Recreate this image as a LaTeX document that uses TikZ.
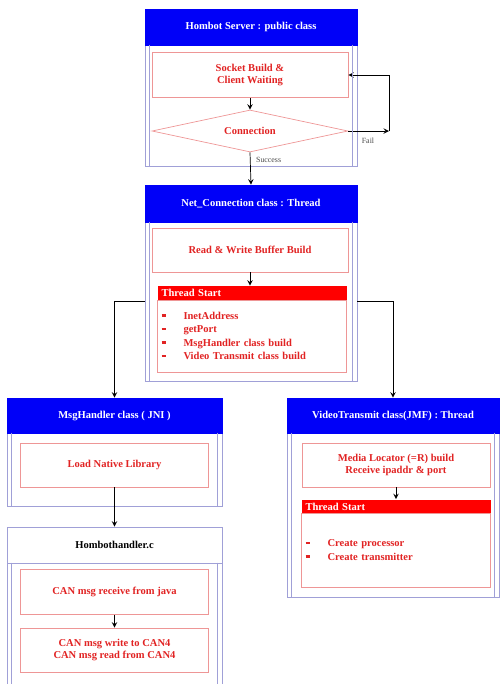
\documentclass[tikz,border=0pt]{standalone}
\usepackage{fontspec}
\setmainfont{Liberation Serif}
\usetikzlibrary{shapes.geometric,arrows,positioning}
\definecolor{hdrblue}{RGB}{0,0,248}
\definecolor{frmline}{RGB}{160,160,215}
\definecolor{boxline}{RGB}{238,150,150}
\definecolor{txtred}{RGB}{225,35,35}
\def\px{0.02cm}
\newcommand\itm{\makebox[0.44cm][l]{\rule[1.4pt]{2.4pt}{1.4pt}}}
\tikzset{
  hdr/.style={fill=hdrblue,draw=hdrblue,text=white,minimum width=#1*\px,minimum height=36*\px,inner sep=1pt},
  chdr/.style={fill=white,draw=frmline,text=black,minimum width=#1*\px,minimum height=36*\px,inner sep=1pt},
  frm/.style={draw=frmline,minimum width=#1*\px,inner sep=0pt},
  frmln/.style={draw=frmline},
  stepbox/.style={draw=boxline,text=txtred,align=center,minimum width=#1*\px,minimum height=44*\px,inner sep=1pt},
  tsbar/.style={fill=red,text=white,minimum width=189*\px,text width=3.62cm,align=left,minimum height=14*\px,inner sep=1pt},
  lst/.style={draw=boxline,text=txtred,minimum width=189*\px,text width=3.62cm,align=left,inner sep=1pt,font=\fontsize{6}{7.7}\selectfont\bfseries},
  lbl/.style={text=black!70,font=\fontsize{4.5}{5}\selectfont,inner sep=1pt}
}
\begin{document}
\begin{tikzpicture}[x=0.02cm,y=-0.02cm,font=\fontsize{6}{7}\selectfont\bfseries,>=stealth]
\useasboundingbox (0,0) rectangle (500,684);

% server class
\node[frm=212,minimum height=121*\px] (srvfrm) at (251,105.5) {};
\node[hdr=212] (srvhdr) at (251,27) {Hombot Server : public class};
\node[stepbox=196,minimum height=45*\px] (sock) at (250,75) {Socket Build \&\\Client Waiting};
\node[diamond,draw=boxline,text=txtred,minimum width=196*\px,minimum height=42*\px,aspect=4.6,inner sep=0pt] (conn) at (250,131) {Connection};
\coordinate (failpt) at (389,131);
\draw[->] (sock) -- (conn);
\draw[->] (conn.east) -- (failpt);
\draw[->] (failpt) |- (sock.east);
\node[lbl] (fail) at (368,141) {Fail};

% net connection thread
\node[frm=212,minimum height=159*\px] (netfrm) at (251,301.5) {};
\node[hdr=212,minimum height=37*\px] (nethdr) at (251,203.5) {Net\_Connection class : Thread};
\draw[->] (conn.south) -- (nethdr.north);
\node[lbl,anchor=west] (succ) at (254,160) {Success};
\node[stepbox=196] (rwbuf) at (250,250) {Read \& Write Buffer Build};
\node[tsbar] (ts1bar) at (252,293) {Thread Start};
\node[lst,minimum height=72*\px] (ts1list) at (252,336)
  {\itm InetAddress\\\itm getPort\\\itm MsgHandler class build\\\itm Video Transmit class build};
\draw[->] (rwbuf) -- (rwbuf.south |- ts1bar.north);

% msg handler
\node[frm=215,minimum height=73*\px] (msgfrm) at (114.5,469.5) {};
\node[hdr=215,minimum height=35*\px] (msghdr) at (114.5,415.5) {MsgHandler class ( JNI )};
\node[stepbox=188] (loadlib) at (114.5,465) {Load Native Library};
\draw[->] (netfrm.west) -| (msghdr.north);

% native c part
\node[frm=215,minimum height=130*\px] (cfrm) at (114.5,628) {};
\node[chdr=215] (chdr) at (114.5,545) {Hombothandler.c};
\node[stepbox=188,minimum height=45*\px] (canrecv) at (114.5,592) {CAN msg receive from java};
\node[stepbox=188] (canwr) at (114.5,650) {CAN msg write to CAN4\\CAN msg read from CAN4};
\draw[->] (loadlib) -- (chdr);
\draw[->] (canrecv) -- (canwr);

% video transmit thread
\node[frm=212,minimum height=164*\px] (vidfrm) at (393,515) {};
\node[hdr=212,minimum height=35*\px] (vidhdr) at (393,415.5) {VideoTransmit class(JMF) : Thread};
\node[stepbox=188] (medloc) at (396,465) {Media Locator (=R) build\\Receive ipaddr \& port};
\node[tsbar] (ts2bar) at (396,506.5) {Thread Start};
\node[lst,minimum height=74*\px] (ts2list) at (396,550) {\itm Create processor\\\itm Create transmitter};
\draw[->] (medloc) -- (ts2bar);
\draw[->] (netfrm.east) -| (vidhdr.north);

% inner side lines of the frames
\foreach \f in {srvfrm,netfrm,msgfrm,cfrm,vidfrm} {
  \draw[frmln] ([xshift=5*\px]\f.north west) -- ([xshift=5*\px]\f.south west);
  \draw[frmln] ([xshift=-5*\px]\f.north east) -- ([xshift=-5*\px]\f.south east);
}
\end{tikzpicture}
\end{document}
